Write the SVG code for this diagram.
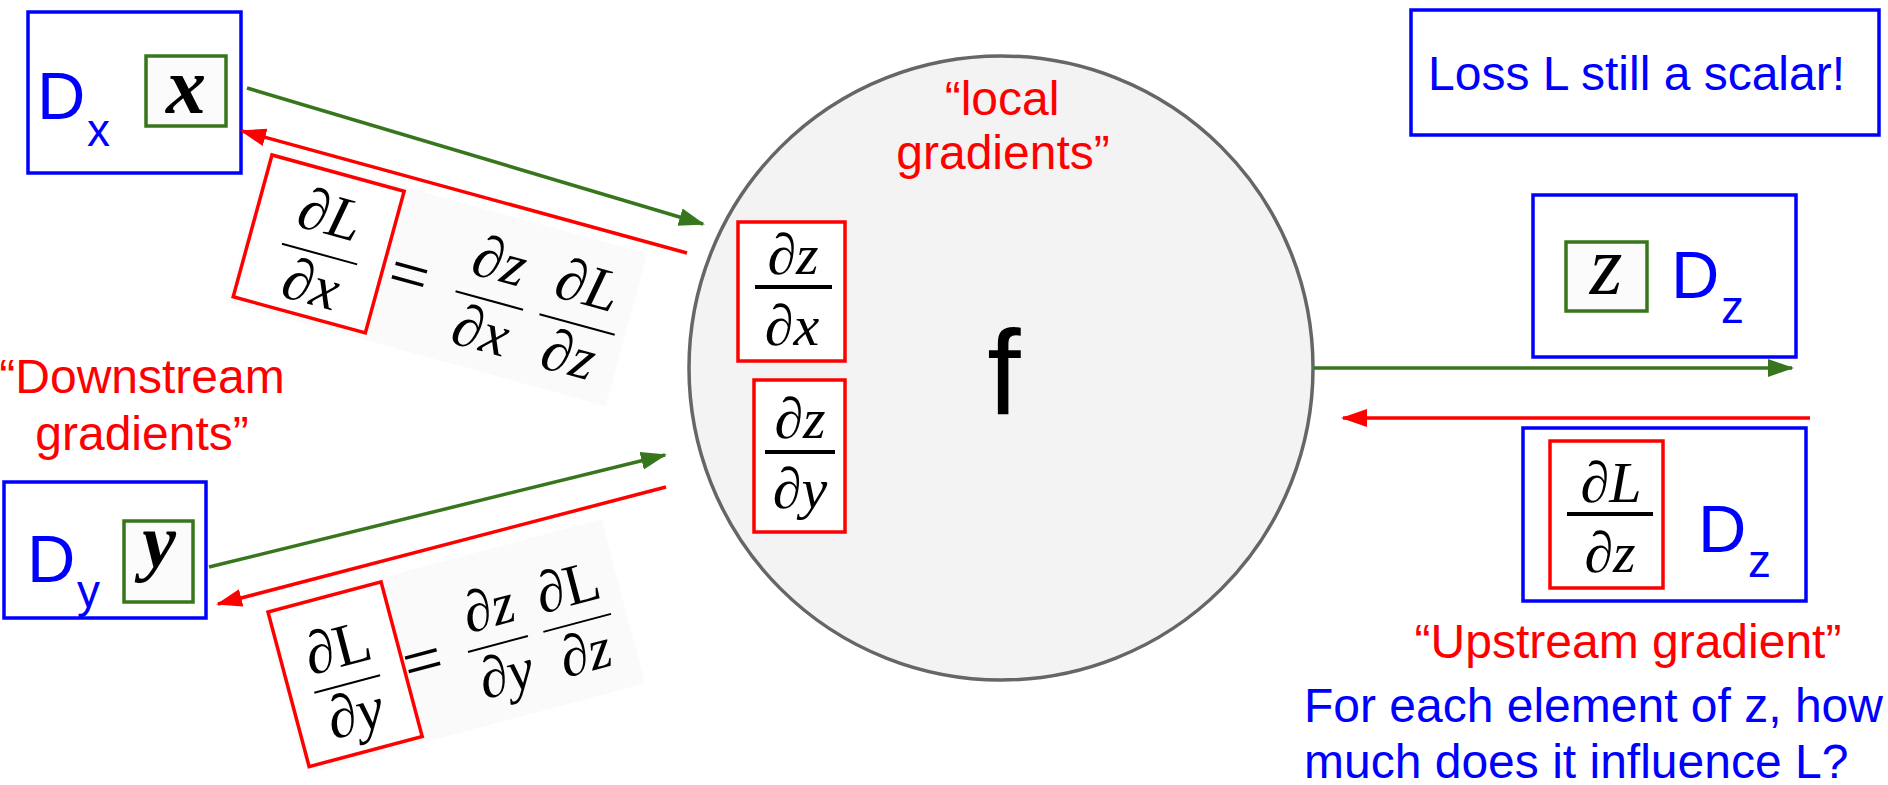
<svg xmlns="http://www.w3.org/2000/svg" width="1888" height="785" viewBox="0 0 1888 785">
<defs>
<style>
.blue{fill:#fff;stroke:#0000ff;stroke-width:3.5}
.gbox{fill:#fbfbfb;stroke:#38761d;stroke-width:3.5}
.rbox{fill:#fff;stroke:#ff0000;stroke-width:3.5}
.rframe{fill:none;stroke:#ff0000;stroke-width:3.5}
.sans{font-family:"Liberation Sans",Arial,sans-serif}
.bt{fill:#0000ff}
.rt{fill:#ff0000}
.math{font-family:"Liberation Serif","Times New Roman",serif;font-style:italic;fill:#000;text-anchor:middle}
.up{font-style:normal}
.bold{font-weight:bold}
.bar{stroke:#000;stroke-width:4}
.thin{stroke:#000;stroke-width:2}
.garrow{stroke:#38761d;stroke-width:3.5;fill:none;marker-end:url(#gh)}
.rarrow{stroke:#ff0000;stroke-width:3.5;fill:none;marker-end:url(#rh)}
.eqbg{fill:#fafafa}
</style>
<marker id="gh" markerUnits="userSpaceOnUse" markerWidth="26" markerHeight="20" refX="24" refY="9.5" orient="auto" viewBox="0 0 26 20"><path d="M0,0.5 L26,9.5 L0,18.5 z" fill="#38761d"/></marker>
<marker id="rh" markerUnits="userSpaceOnUse" markerWidth="26" markerHeight="20" refX="24" refY="9.5" orient="auto" viewBox="0 0 26 20"><path d="M0,0.5 L26,9.5 L0,18.5 z" fill="#ff0000"/></marker>
</defs>

<g id="node-f">
<circle cx="1001" cy="368" r="312" fill="#f3f3f3" stroke="#666666" stroke-width="3.5"/>
<text class="sans rt" x="1002" y="115" font-size="48" text-anchor="middle">“local</text>
<text class="sans rt" x="1003" y="169" font-size="48" text-anchor="middle">gradients”</text>
<text class="sans" x="1004" y="414" font-size="120" text-anchor="middle" fill="#000">f</text>
<rect class="rbox" x="738" y="222" width="107" height="139"/>
<text class="math" x="793" y="274" font-size="58">∂z</text>
<line class="bar" x1="755" y1="287" x2="832" y2="287"/>
<text class="math" x="792" y="345" font-size="58">∂x</text>
<rect class="rbox" x="754" y="380" width="91" height="152"/>
<text class="math" x="800" y="438" font-size="58">∂z</text>
<line class="bar" x1="765" y1="452" x2="835" y2="452"/>
<text class="math" x="800" y="508" font-size="58">∂y</text>
</g>

<g id="node-dx">
<rect class="blue" x="28" y="12" width="213" height="161"/>
<text class="sans bt" x="37" y="119" font-size="67">D</text>
<text class="sans bt" x="87" y="146" font-size="46">x</text>
<rect class="gbox" x="146" y="56" width="80" height="70"/>
<text class="math bold" x="186" y="113" font-size="80">x</text>
</g>

<g id="node-dy">
<rect class="blue" x="4" y="482" width="202" height="136"/>
<text class="sans bt" x="27" y="582" font-size="67">D</text>
<text class="sans bt" x="77" y="607" font-size="46">y</text>
<rect class="gbox" x="124" y="521" width="69" height="81"/>
<text class="math bold" x="159" y="567" font-size="76">y</text>
</g>

<g id="label-downstream">
<text class="sans rt" x="142" y="393" font-size="48" text-anchor="middle">“Downstream</text>
<text class="sans rt" x="142" y="450" font-size="48" text-anchor="middle">gradients”</text>
</g>

<g id="eq-x" transform="translate(272,155) rotate(15.3)">
<rect class="eqbg" x="-4" y="-4" width="392" height="158"/>
<rect class="rbox" x="0" y="0" width="137" height="147"/>
<text class="math" x="72" y="62" font-size="60">∂L</text>
<line class="thin" x1="33" y1="83" x2="111" y2="83"/>
<text class="math" x="72" y="134" font-size="60">∂x</text>
<text class="math up" x="164" y="102" font-size="70">=</text>
<text class="math" x="248" y="62" font-size="60">∂z</text>
<line class="thin" x1="213" y1="83" x2="283" y2="83"/>
<text class="math" x="248" y="134" font-size="60">∂x</text>
<text class="math" x="339" y="62" font-size="60">∂L</text>
<line class="thin" x1="300" y1="83" x2="378" y2="83"/>
<text class="math" x="339" y="134" font-size="60">∂z</text>
</g>

<g id="eq-y" transform="translate(268,612) rotate(-14.9)">
<rect class="eqbg" x="-4" y="-4" width="350" height="170"/>
<rect class="rbox" x="0" y="0" width="117" height="160"/>
<text class="math" x="58" y="72" font-size="60">∂<tspan class="up">L</tspan></text>
<line class="thin" x1="24" y1="90" x2="92" y2="90"/>
<text class="math" x="58" y="140" font-size="60">∂y</text>
<text class="math up" x="137" y="110" font-size="70">=</text>
<text class="math" x="214" y="72" font-size="58">∂z</text>
<line class="thin" x1="183" y1="90" x2="245" y2="90"/>
<text class="math" x="214" y="140" font-size="58">∂y</text>
<text class="math" x="296" y="72" font-size="58">∂<tspan class="up">L</tspan></text>
<line class="thin" x1="261" y1="90" x2="331" y2="90"/>
<text class="math" x="296" y="140" font-size="58">∂z</text>
</g>

<g id="connectors">
<line class="garrow" x1="247" y1="88" x2="703" y2="224"/>
<line class="rarrow" x1="687" y1="253" x2="242" y2="131"/>
<line class="garrow" x1="209" y1="567" x2="665" y2="455"/>
<line class="rarrow" x1="666" y1="487" x2="218" y2="604"/>
<line class="garrow" x1="1314" y1="368" x2="1792" y2="368"/>
<line class="rarrow" x1="1810" y1="418" x2="1343" y2="418"/>
</g>

<g id="node-loss">
<rect class="blue" x="1411" y="10" width="468" height="125"/>
<text class="sans bt" x="1428" y="90" font-size="48">Loss L still a scalar!</text>
</g>

<g id="node-dz-out">
<rect class="blue" x="1533" y="195" width="263" height="162"/>
<rect class="gbox" x="1566" y="242" width="81" height="69"/>
<text class="math" x="1606" y="294" font-size="84">z</text>
<text class="sans bt" x="1671" y="298" font-size="67">D</text>
<text class="sans bt" x="1721" y="323" font-size="46">z</text>
</g>

<g id="node-dz-grad">
<rect class="blue" x="1523" y="428" width="283" height="173"/>
<rect class="rbox" x="1550" y="441" width="113" height="147"/>
<text class="math" x="1611" y="502" font-size="58">∂L</text>
<line class="bar" x1="1567" y1="514" x2="1653" y2="514" stroke-width="5"/>
<text class="math" x="1610" y="572" font-size="58">∂z</text>
<text class="sans bt" x="1698" y="552" font-size="67">D</text>
<text class="sans bt" x="1748" y="577" font-size="46">z</text>
</g>

<g id="label-upstream">
<text class="sans rt" x="1628" y="658" font-size="48" text-anchor="middle">“Upstream gradient”</text>
<text class="sans bt" x="1304" y="722" font-size="48">For each element of z, how</text>
<text class="sans bt" x="1304" y="778" font-size="48">much does it influence L?</text>
</g>
</svg>
